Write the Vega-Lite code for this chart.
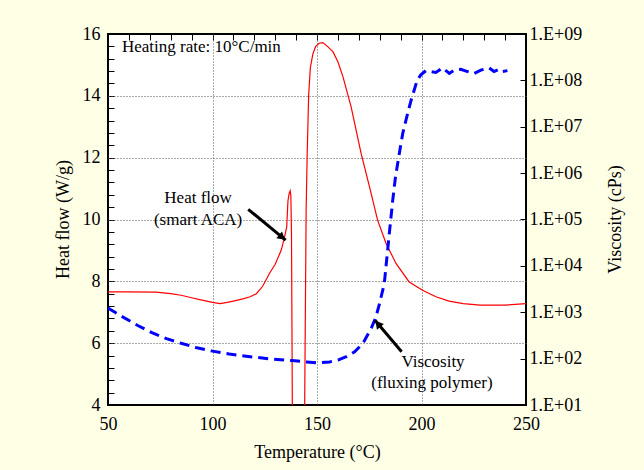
{
  "$schema": "https://vega.github.io/schema/vega-lite/v6.json",
  "width": 418,
  "height": 371,
  "autosize": {"type": "none"},
  "padding": {"left": 108, "top": 34, "right": 118, "bottom": 65},
  "background": "#FFFFE6",
  "config": {
    "view": {"stroke": "black", "strokeWidth": 2, "fill": "white"},
    "axis": {
      "labelFont": "Liberation Serif", "titleFont": "Liberation Serif",
      "labelFontSize": 18, "titleFontSize": 18, "titleFontWeight": "normal",
      "labelColor": "black", "titleColor": "black",
      "domainColor": "black", "domainWidth": 2,
      "gridColor": "#555555", "gridDash": [1, 2], "gridWidth": 1,
      "labelOverlap": false, "labelFlush": false, "labelBound": false
    }
  },
  "datasets": {
    "hf": [
      {"T": 50, "HF": 7.66}, {"T": 60, "HF": 7.66}, {"T": 73, "HF": 7.65}, {"T": 80, "HF": 7.6},
      {"T": 85, "HF": 7.55}, {"T": 90, "HF": 7.47}, {"T": 95, "HF": 7.39}, {"T": 100, "HF": 7.32},
      {"T": 103.6, "HF": 7.28}, {"T": 107, "HF": 7.32}, {"T": 110.5, "HF": 7.37}, {"T": 115, "HF": 7.44},
      {"T": 118, "HF": 7.5}, {"T": 121, "HF": 7.6}, {"T": 124, "HF": 7.84}, {"T": 127.3, "HF": 8.26},
      {"T": 130, "HF": 8.55}, {"T": 132.9, "HF": 9.01}, {"T": 134.5, "HF": 9.44}, {"T": 135.5, "HF": 9.75},
      {"T": 136.1, "HF": 10.6}, {"T": 136.7, "HF": 10.85}, {"T": 137.2, "HF": 10.93}, {"T": 137.5, "HF": 10.75},
      {"T": 137.8, "HF": 9.5}, {"T": 138.2, "HF": 4.0}, {"T": 138.4, "HF": 0},
      {"T": 143.9, "HF": 0}, {"T": 144.1, "HF": 4.0}, {"T": 144.8, "HF": 10.3}, {"T": 145.3, "HF": 12.1},
      {"T": 146.0, "HF": 14.0}, {"T": 146.8, "HF": 14.9}, {"T": 148.0, "HF": 15.35}, {"T": 149.3, "HF": 15.59},
      {"T": 151, "HF": 15.7}, {"T": 152.8, "HF": 15.72}, {"T": 155, "HF": 15.6}, {"T": 157.6, "HF": 15.43},
      {"T": 160, "HF": 15.1}, {"T": 162.4, "HF": 14.62}, {"T": 166.3, "HF": 13.65}, {"T": 171.1, "HF": 12.14},
      {"T": 175.1, "HF": 11.06}, {"T": 179, "HF": 9.98}, {"T": 183, "HF": 9.23}, {"T": 187.8, "HF": 8.58},
      {"T": 194.1, "HF": 7.98}, {"T": 200.5, "HF": 7.71}, {"T": 206.9, "HF": 7.5}, {"T": 213.2, "HF": 7.36},
      {"T": 220, "HF": 7.28}, {"T": 228, "HF": 7.23}, {"T": 240, "HF": 7.23}, {"T": 250, "HF": 7.28}
    ],
    "visc": [
      {"T": 50, "V": 1230}, {"T": 57, "V": 794}, {"T": 64, "V": 525}, {"T": 71, "V": 363},
      {"T": 78, "V": 269}, {"T": 85, "V": 214}, {"T": 92, "V": 174}, {"T": 100, "V": 145},
      {"T": 108, "V": 126}, {"T": 118, "V": 110}, {"T": 128, "V": 98}, {"T": 138, "V": 91},
      {"T": 145, "V": 85}, {"T": 150, "V": 81}, {"T": 156, "V": 85}, {"T": 160, "V": 93},
      {"T": 164, "V": 110}, {"T": 168, "V": 141}, {"T": 172, "V": 214}, {"T": 176, "V": 457},
      {"T": 178.2, "V": 794}, {"T": 180, "V": 1585}, {"T": 182.2, "V": 4169}, {"T": 184.6, "V": 50119},
      {"T": 186.2, "V": 251189}, {"T": 187.5, "V": 794328}, {"T": 189.4, "V": 2691535}, {"T": 191, "V": 7079458},
      {"T": 192.6, "V": 14125375}, {"T": 195, "V": 37153523}, {"T": 198, "V": 102329299}, {"T": 199.7, "V": 131825674},
      {"T": 202.1, "V": 162181010}, {"T": 204.5, "V": 154881662}, {"T": 206.9, "V": 147910839}, {"T": 210.1, "V": 186208714},
      {"T": 213.3, "V": 141253754}, {"T": 215.6, "V": 165958691}, {"T": 218.8, "V": 173780083}, {"T": 222, "V": 154881662},
      {"T": 225.2, "V": 141253754}, {"T": 228.4, "V": 165958691}, {"T": 232.3, "V": 186208714}, {"T": 234.7, "V": 154881662},
      {"T": 237.1, "V": 173780083}, {"T": 238.7, "V": 154881662}, {"T": 241.1, "V": 162181010}
    ],
    "notes": [
      {"T": 93.1, "Y": 10.69, "label": "Heat flow"},
      {"T": 93.1, "Y": 9.98, "label": "(smart ACA)"},
      {"T": 205.5, "Y": 5.39, "label": "Viscosity"},
      {"T": 205.0, "Y": 4.7, "label": "(fluxing polymer)"}
    ],
    "heading": [
      {"T": 56.7, "Y": 15.58, "label": "Heating rate: 10°C/min"}
    ],
    "arrows": [
      {"id": "hf", "T1": 117.1, "Y1": 10.33, "T2": 135.0, "Y2": 9.33},
      {"id": "visc", "T1": 190.5, "Y1": 5.72, "T2": 177.75, "Y2": 6.74}
    ]
  },
  "layer": [
    {
      "data": {"name": "hf"},
      "mark": {"type": "line", "color": "#FF0000", "strokeWidth": 1.2, "clip": true},
      "encoding": {
        "x": {"field": "T", "type": "quantitative",
          "scale": {"domain": [50, 250], "nice": false, "zero": false},
          "axis": {"orient": "bottom", "values": [50,60,70,80,90,100,110,120,130,140,150,160,170,180,190,200,210,220,230,240,250],
            "labelExpr": "datum.value % 50 === 0 ? format(datum.value, 'd') : ''",
            "ticks": false, "tickSize": 0, "labelPadding": 10,
            "grid": true, "gridColor": "#000000", "gridDash": [6, 2000], "gridWidth": 1, "domain": false,
            "title": "Temperature (°C)", "titleX": 209, "titleY": 47, "titleAlign": "center", "titleBaseline": "middle"}},
        "y": {"field": "HF", "type": "quantitative",
          "scale": {"domain": [4, 16], "nice": false, "zero": false},
          "axis": {"orient": "left", "values": [4,4.4,4.8,5.2,5.6,6,6.4,6.8,7.2,7.6,8,8.4,8.8,9.2,9.6,10,10.4,10.8,11.2,11.6,12,12.4,12.8,13.2,13.6,14,14.4,14.8,15.2,15.6,16],
            "labelExpr": "round(datum.value * 10) % 20 === 0 ? format(datum.value, 'd') : ''",
            "ticks": false, "tickSize": 0, "labelPadding": 8,
            "grid": true, "gridColor": "#000000", "gridDash": [6, 2000], "gridWidth": 1, "domain": false,
            "title": "Heat flow (W/g)", "titleX": -45, "titleY": 185, "titleAngle": -90, "titleAlign": "center", "titleBaseline": "middle"}}
      }
    },
    {
      "data": {"name": "visc"},
      "mark": {"type": "line", "color": "#0000FF", "strokeWidth": 3, "strokeDash": [10, 6], "clip": true},
      "encoding": {
        "x": {"field": "T", "type": "quantitative", "scale": {"domain": [50, 250], "nice": false, "zero": false}, "axis": null},
        "y": {"field": "V", "type": "quantitative",
          "scale": {"type": "log", "domain": [10, 1000000000], "nice": false},
          "axis": {"orient": "right", "values": [10,100,1000,10000,100000,1000000,10000000,100000000,1000000000],
            "labelExpr": "'1.E+0' + format(round(log(datum.value) / LN10), 'd')",
            "ticks": false, "tickSize": 0, "labelPadding": 3,
            "grid": true, "gridColor": "#000000", "gridDash": [6, 2000], "gridWidth": 1, "domain": false,
            "title": "Viscosity (cPs)", "titleX": 89, "titleY": 185, "titleAngle": -90, "titleAlign": "center", "titleBaseline": "middle"}}
      }
    },
    {
      "data": {"name": "notes"},
      "mark": {"type": "text", "font": "Liberation Serif", "fontSize": 17, "color": "black", "align": "center", "baseline": "middle"},
      "encoding": {
        "x": {"field": "T", "type": "quantitative", "scale": {"domain": [50, 250], "nice": false, "zero": false},
          "axis": {"orient": "bottom", "values": [100, 150, 200], "grid": true, "ticks": false, "labels": false, "domain": false, "title": null}},
        "y": {"field": "Y", "type": "quantitative", "scale": {"domain": [4, 16], "nice": false, "zero": false},
          "axis": {"orient": "left", "values": [6, 8, 10, 12, 14], "grid": true, "ticks": false, "labels": false, "domain": false, "title": null}},
        "text": {"field": "label"}
      }
    },
    {
      "data": {"name": "heading"},
      "mark": {"type": "text", "font": "Liberation Serif", "fontSize": 17, "color": "black", "align": "left", "baseline": "middle"},
      "encoding": {
        "x": {"field": "T", "type": "quantitative", "scale": {"domain": [50, 250], "nice": false, "zero": false}, "axis": null},
        "y": {"field": "Y", "type": "quantitative", "scale": {"domain": [4, 16], "nice": false, "zero": false}, "axis": null},
        "text": {"field": "label"}
      }
    },
    {
      "data": {"name": "arrows"},
      "mark": {"type": "rule", "color": "black", "strokeWidth": 3},
      "encoding": {
        "x": {"field": "T1", "type": "quantitative", "scale": {"domain": [50, 250], "nice": false, "zero": false}, "axis": null},
        "y": {"field": "Y1", "type": "quantitative", "scale": {"domain": [4, 16], "nice": false, "zero": false}, "axis": null},
        "x2": {"field": "T2"},
        "y2": {"field": "Y2"}
      }
    },
    {
      "data": {"name": "arrows"},
      "transform": [{"filter": "datum.id === 'hf'"}],
      "mark": {"type": "point", "shape": "triangle-up", "filled": true, "color": "black", "opacity": 1, "size": 80, "angle": 129, "xOffset": -3.5, "yOffset": -2.9},
      "encoding": {
        "x": {"field": "T2", "type": "quantitative", "scale": {"domain": [50, 250], "nice": false, "zero": false}, "axis": null},
        "y": {"field": "Y2", "type": "quantitative", "scale": {"domain": [4, 16], "nice": false, "zero": false}, "axis": null}
      }
    },
    {
      "data": {"name": "arrows"},
      "transform": [{"filter": "datum.id === 'visc'"}],
      "mark": {"type": "point", "shape": "triangle-up", "filled": true, "color": "black", "opacity": 1, "size": 80, "angle": 320, "xOffset": 2.9, "yOffset": 3.5},
      "encoding": {
        "x": {"field": "T2", "type": "quantitative", "scale": {"domain": [50, 250], "nice": false, "zero": false}, "axis": null},
        "y": {"field": "Y2", "type": "quantitative", "scale": {"domain": [4, 16], "nice": false, "zero": false}, "axis": null}
      }
    }
  ],
  "resolve": {"scale": {"y": "independent"}, "axis": {"x": "independent", "y": "independent"}}
}
